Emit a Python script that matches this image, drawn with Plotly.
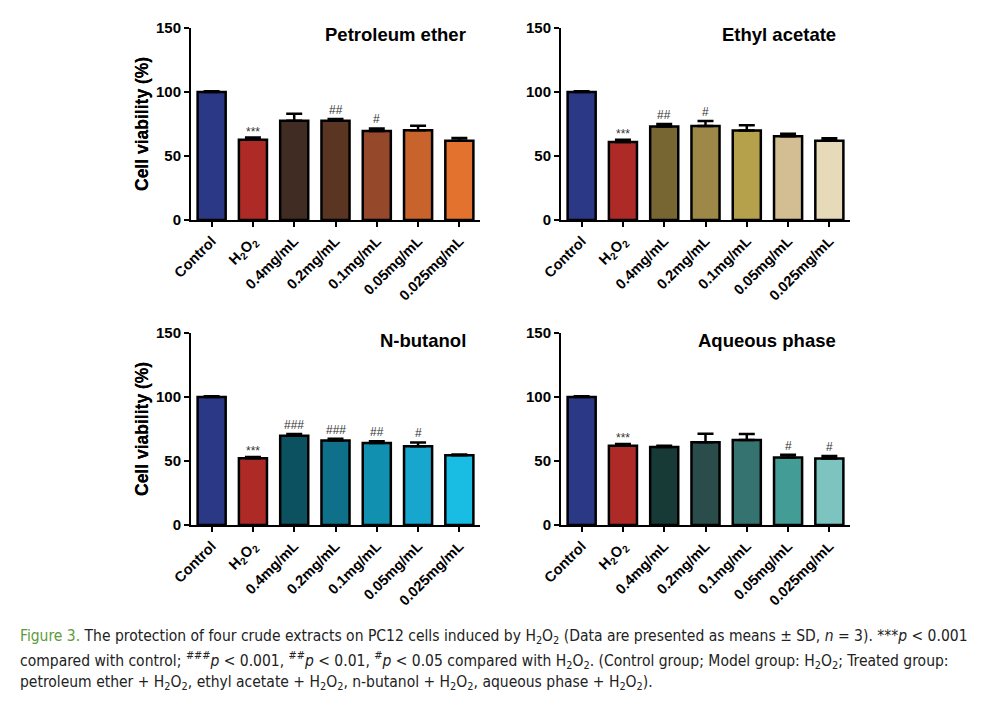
import plotly.graph_objects as go
from plotly.subplots import make_subplots

# 组别
groups = ["Control", "H<sub>2</sub>O<sub>2</sub>", "0.4mg/mL", "0.2mg/mL",
          "0.1mg/mL", "0.05mg/mL", "0.025mg/mL"]

# 四种提取物的细胞存活率 (均值, SD) —— 从原图读出
pe_mean = [100, 62.6, 77.5, 77.5, 69.5, 70.2, 62.0]
pe_sd = [0.5, 1.8, 5.5, 1.5, 2.0, 3.4, 2.0]
ea_mean = [100, 61.0, 73.0, 73.4, 70.0, 65.5, 62.0]
ea_sd = [0.5, 1.6, 2.0, 3.9, 4.0, 1.9, 1.8]
nb_mean = [100, 52.2, 69.7, 66.0, 64.0, 61.6, 54.5]
nb_sd = [0.5, 1.0, 1.3, 1.4, 1.5, 2.9, 0.5]
aq_mean = [100, 62.0, 61.0, 64.7, 66.5, 52.7, 52.0]
aq_sd = [0.5, 1.2, 0.9, 6.6, 4.5, 2.1, 2.0]

# 显著性标记
pe_marks = ["", "***", "", "##", "#", "", ""]
ea_marks = ["", "***", "##", "#", "", "", ""]
nb_marks = ["", "***", "###", "###", "##", "#", ""]
aq_marks = ["", "***", "", "", "", "#", "#"]

titles = ["Petroleum ether", "Ethyl acetate", "N-butanol", "Aqueous phase"]

base_colors = ["#2A3886", "#AE2A27"]
pe_colors = base_colors + ["#402C22", "#5A3521", "#95492A", "#C8632C", "#E4722F"]
ea_colors = base_colors + ["#776631", "#9D8847", "#B5A04C", "#D2BE92", "#E6DAB8"]
nb_colors = base_colors + ["#0C5160", "#0F7189", "#1290B0", "#16A6CE", "#19BCE3"]
aq_colors = base_colors + ["#183A37", "#2A4C4A", "#357370", "#449C97", "#7DC3C0"]

# 页面有 8px 边距，图本身小一点免得溢出
OFF = 8
W, H = 996 - 2 * OFF, 705 - 2 * OFF
FONT = "Liberation Sans"


def px_x(p):
    return (p - OFF) / W


def px_y(p):
    return 1 - (p - OFF) / H


panels = [
    (pe_mean, pe_sd, pe_marks, pe_colors, 1, 1),
    (ea_mean, ea_sd, ea_marks, ea_colors, 1, 2),
    (nb_mean, nb_sd, nb_marks, nb_colors, 2, 1),
    (aq_mean, aq_sd, aq_marks, aq_colors, 2, 2),
]

# 参考图里的像素位置
x_px = {1: (191, 480), 2: (561, 850)}
y_px = {1: (28, 220), 2: (333, 525)}

fig = make_subplots(rows=2, cols=2)

for i, (mean, sd, marks, colors, r, c) in enumerate(panels):
    fig.add_trace(go.Bar(
        x=list(range(len(groups))), y=mean, width=0.68,
        marker=dict(color=colors, line=dict(color="black", width=2.5)),
        error_y=dict(type="data", array=sd, arrayminus=[0] * len(sd),
                     symmetric=False, color="black", thickness=2.5, width=8),
        showlegend=False), row=r, col=c)

    ax = "" if i == 0 else str(i + 1)
    x0, x1 = x_px[c]
    y0, y1 = y_px[r]
    fig.update_xaxes(domain=[px_x(x0), px_x(x1)], range=[-0.5, 6.5],
                     tickvals=list(range(len(groups))), ticktext=groups,
                     tickangle=-45, showline=True, linewidth=2, linecolor="black",
                     ticks="outside", ticklen=5, tickwidth=2, tickcolor="black",
                     tickfont=dict(family=FONT, size=14.5, color="black", weight="bold"),
                     showgrid=False, zeroline=False, automargin=False, row=r, col=c)
    fig.update_yaxes(domain=[px_y(y1), px_y(y0)], range=[0, 150],
                     tickvals=[0, 50, 100, 150], showline=True, linewidth=2,
                     linecolor="black", ticks="outside", ticklen=5, tickwidth=2,
                     tickcolor="black",
                     tickfont=dict(family=FONT, size=15, color="black", weight="bold"),
                     showgrid=False, zeroline=False, automargin=False, row=r, col=c)

    # 面板标题
    fig.add_annotation(x=px_x(x1 - 12), y=px_y(y0 + 7), xref="paper", yref="paper",
                       text="<b>%s</b>" % titles[i], showarrow=False,
                       xanchor="right", yanchor="middle",
                       font=dict(family=FONT, size=18.5, color="black"))
    # y 轴标题
    fig.add_annotation(x=px_x(142), y=px_y((y0 + y1) / 2), xref="paper", yref="paper",
                       text="<b>Cell viability (%)</b>", showarrow=False, textangle=-90,
                       xanchor="center", yanchor="middle",
                       font=dict(family=FONT, size=17.5, color="black"))
    # 显著性标记
    for k, m in enumerate(marks):
        if m:
            fig.add_annotation(x=k, y=mean[k] + sd[k], xref="x" + ax, yref="y" + ax,
                               text=m, showarrow=False, yanchor="bottom",
                               yshift=-3 if m.startswith("*") else 0,
                               font=dict(family=FONT, size=12, color="#333333"))

# 图注
cap_lines = [
    "<span style='color:#5C9B3B'>Figure 3.</span> The protection of four crude extracts on PC12 cells "
    "induced by H<sub>2</sub>O<sub>2</sub> (Data are presented as means ± SD, <i>n</i> = 3). "
    "***<i>p</i> &lt; 0.001",
    "compared with control; <sup>###</sup><i>p</i> &lt; 0.001, <sup>##</sup><i>p</i> &lt; 0.01, "
    "<sup>#</sup><i>p</i> &lt; 0.05 compared with H<sub>2</sub>O<sub>2</sub>. (Control group; "
    "Model group: H<sub>2</sub>O<sub>2</sub>; Treated group:",
    "petroleum ether + H<sub>2</sub>O<sub>2</sub>, ethyl acetate + H<sub>2</sub>O<sub>2</sub>, "
    "n-butanol + H<sub>2</sub>O<sub>2</sub>, aqueous phase + H<sub>2</sub>O<sub>2</sub>).",
]
for j, line in enumerate(cap_lines):
    fig.add_annotation(x=px_x(18), y=px_y(637 + 23 * j), xref="paper", yref="paper",
                       text=line, showarrow=False, xanchor="left", yanchor="middle",
                       font=dict(family="Liberation Sans Narrow, DejaVu Sans Condensed",
                                 size=15.5, color="#222222"))

fig.update_layout(width=W, height=H, margin=dict(l=0, r=0, t=0, b=0),
                  plot_bgcolor="white", paper_bgcolor="white")

fig.write_html("out.html")
